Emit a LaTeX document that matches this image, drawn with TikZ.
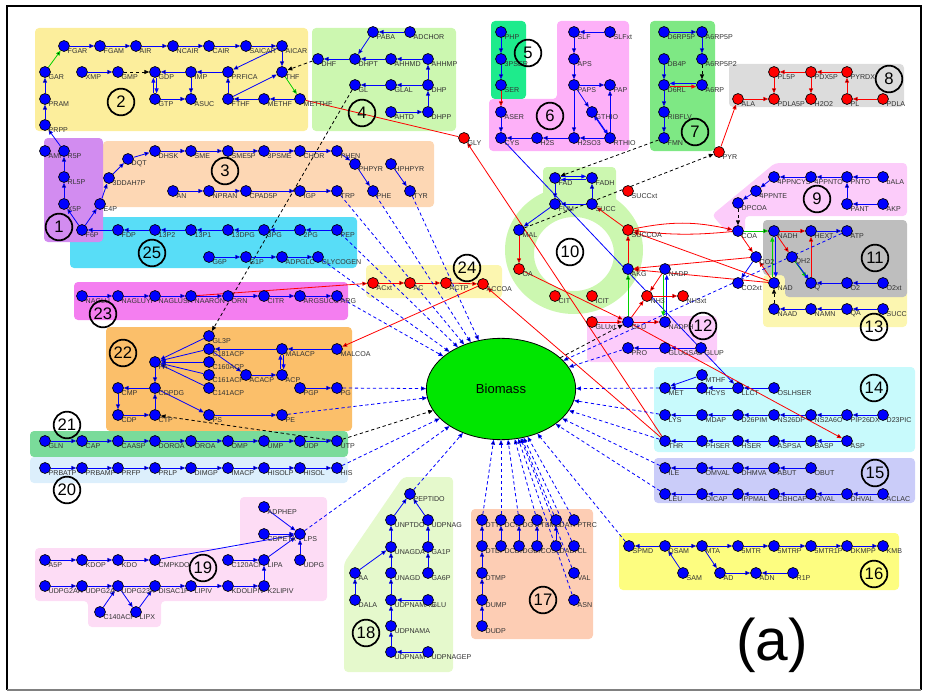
\documentclass[tikz,border=0pt]{standalone}
\usepackage{fontspec}
\setmainfont{Liberation Sans}
\usetikzlibrary{arrows.meta,backgrounds,shapes.geometric}

\definecolor{bxyel}{HTML}{FCEE9C}
\definecolor{bxgrn}{HTML}{CCF7B0}
\definecolor{bxpur}{HTML}{D28CF0}
\definecolor{bxpch}{HTML}{FDD7B4}
\definecolor{bxcyn}{HTML}{58DDF7}
\definecolor{bxmag}{HTML}{F47EF0}
\definecolor{bxlyl}{HTML}{FCF6B0}
\definecolor{bxorg}{HTML}{FBBF6A}
\definecolor{bxgrd}{HTML}{7ADB9A}
\definecolor{bxlbl}{HTML}{DCEFFC}
\definecolor{bxpnk}{HTML}{FDDCF5}
\definecolor{bxlgr}{HTML}{E5F9CC}
\definecolor{bxsal}{HTML}{FDCDB4}
\definecolor{bxbyl}{HTML}{FDFD80}
\definecolor{bxlav}{HTML}{CACCF9}
\definecolor{bxlcy}{HTML}{C8FAFC}
\definecolor{bxgry}{HTML}{BEBEBE}
\definecolor{bxlgy}{HTML}{DCDCDC}
\definecolor{bxmgr}{HTML}{7EE884}
\definecolor{bxvio}{HTML}{FDB0F8}
\definecolor{bxsea}{HTML}{1EEB8C}
\definecolor{bxpk2}{HTML}{FCCCFA}
\definecolor{biogrn}{HTML}{00E600}
\definecolor{arrgrn}{HTML}{00D000}

\newcommand{\lblfont}{\fontsize{5.3}{6}\selectfont}

\begin{document}
\begin{tikzpicture}[x=0.75pt, y=-0.75pt,
  met/.style={circle, draw=black, line width=0.5pt, fill=blue, minimum size=8.2pt,
              inner sep=0pt, label={[lbl]south east:#1}},
  redmet/.style={met=#1, fill=red},
  lbl/.style={anchor=west, inner sep=0.3pt, xshift=-0.8pt, yshift=-0.8pt,
              font=\lblfont, text=black!80},
  num/.style={circle, draw=black, line width=1.3pt, minimum size=20pt, inner sep=0pt,
              font=\fontsize{12.5}{14}\selectfont},
  rxn/.style={draw=blue, line width=0.6pt, -{Triangle[length=3.6pt,width=3pt]}},
  redrxn/.style={rxn, draw=red},
  grnrxn/.style={rxn, draw=arrgrn},
  blkdash/.style={rxn, draw=black, dash pattern=on 2.5pt off 2pt},
  biodash/.style={rxn, dash pattern=on 2.5pt off 2pt},
  box/.style={rounded corners=3pt}]

\useasboundingbox (0,0) rectangle (928,692);

% metabolites -------------------------------------------------------
% purine (2)
\node[met=FGAR] (FGAR) at (64,46) {};
\node[met=FGAM] (FGAM) at (100,46) {};
\node[met=AIR] (AIR) at (136,46) {};
\node[met=NCAIR] (NCAIR) at (173,46) {};
\node[met=CAIR] (CAIR) at (209,46) {};
\node[met=SAICAR] (SAICAR) at (246,46) {};
\node[met=AICAR] (AICAR) at (282,46) {};
\node[met=GAR] (GAR) at (45,72) {};
\node[met=XMP] (XMP) at (82,72) {};
\node[met=GMP] (GMP) at (118,72) {};
\node[met=GDP] (GDP) at (155,72) {};
\node[met=IMP] (IMP) at (191,72) {};
\node[met=PRFICA] (PRFICA) at (228,72) {};
\node[met=THF] (THF) at (282,72) {};
\node[met=PRAM] (PRAM) at (45,99) {};
\node[met=GTP] (GTP) at (155,99) {};
\node[met=ASUC] (ASUC) at (191,99) {};
\node[met=FTHF] (FTHF) at (228,99) {};
\node[met=METHF] (METHF) at (264,99) {};
\node[met=METTHF] (METTHF) at (300,99) {};
\node[met=PRPP] (PRPP) at (45,125) {};
% folate (4)
\node[met=PABA] (PABA) at (373,32) {};
\node[met=ADCHOR] (ADCHOR) at (410,32) {};
\node[met=DHF] (DHF) at (318,59) {};
\node[met=DHPT] (DHPT) at (355,59) {};
\node[met=AHHMD] (AHHMD) at (391,59) {};
\node[met=AHHMP] (AHHMP) at (428,59) {};
\node[met=GL] (GL) at (355,85) {};
\node[met=GLAL] (GLAL) at (391,85) {};
\node[met=DHP] (DHP) at (428,85) {};
\node[met=AHTD] (AHTD) at (391,112) {};
\node[met=DHPP] (DHPP) at (428,112) {};
% pentose / aromatics (1, 3)
\node[met=AMP] (AMP) at (45,151) {};
\node[met=R5P] (R5P) at (64,151) {};
\node[met=RL5P] (RL5P) at (64,177) {};
\node[met=X5P] (X5P) at (64,204) {};
\node[met=F6P] (F6P) at (82,230) {};
\node[met=E4P] (E4P) at (100,204) {};
\node[met=3DDAH7P] (3DDAH7P) at (109,178) {};
\node[met=DQT] (DQT) at (128,159) {};
\node[met=DHSK] (DHSK) at (155,151) {};
\node[met=SME] (SME) at (191,151) {};
\node[met=SME5P] (SME5P) at (228,151) {};
\node[met=3PSME] (3PSME) at (264,151) {};
\node[met=CHOR] (CHOR) at (300,151) {};
\node[met=PHEN] (PHEN) at (337,151) {};
\node[met=PHPYR] (PHPYR) at (355,164) {};
\node[met=HPHPYR] (HPHPYR) at (391,164) {};
\node[met=AN] (AN) at (173,191) {};
\node[met=NPRAN] (NPRAN) at (209,191) {};
\node[met=CPAD5P] (CPAD5P) at (246,191) {};
\node[met=IGP] (IGP) at (300,191) {};
\node[met=TRP] (TRP) at (337,191) {};
\node[met=PHE] (PHE) at (373,191) {};
\node[met=TYR] (TYR) at (410,191) {};
% glycolysis (25)
\node[met=FDP] (FDP) at (118,230) {};
\node[met=13P2] (13P2) at (155,230) {};
\node[met=13P1] (13P1) at (191,230) {};
\node[met=13DPG] (13DPG) at (228,230) {};
\node[met=3PG] (3PG) at (264,230) {};
\node[met=2PG] (2PG) at (300,230) {};
\node[met=PEP] (PEP) at (337,230) {};
\node[met=G6P] (G6P) at (209,257) {};
\node[met=G1P] (G1P) at (246,257) {};
\node[met=ADPGLC] (ADPGLC) at (282,257) {};
\node[met=GLYCOGEN] (GLYCOGEN) at (318,257) {};
% arginine (23)
\node[met=NAGLU] (NAGLU) at (82,296) {};
\node[met=NAGLUYP] (NAGLUYP) at (118,296) {};
\node[met=NAGLUSA] (NAGLUSA) at (155,296) {};
\node[met=NAARON] (NAARON) at (191,296) {};
\node[met=ORN] (ORN) at (228,296) {};
\node[met=CITR] (CITR) at (264,296) {};
\node[met=ARGSUCC] (ARGSUCC) at (300,296) {};
\node[met=ARG] (ARG) at (337,296) {};
% acetate (24)
\node[redmet=ACxt] (ACxt) at (373,283) {};
\node[redmet=AC] (AC) at (410,283) {};
\node[redmet=ACTP] (ACTP) at (446,283) {};
\node[redmet=ACCOA] (ACCOA) at (483,284) {};
% lipids (22)
\node[met=GL3P] (GL3P) at (209,336) {};
\node[met=C181ACP] (C181ACP) at (209,349) {};
\node[met=C160ACP] (C160ACP) at (209,362) {};
\node[met=C161ACP] (C161ACP) at (209,375) {};
\node[met=C141ACP] (C141ACP) at (209,388) {};
\node[met=PA] (PA) at (155,362) {};
\node[met=CMP] (CMP) at (118,388) {};
\node[met=CDPDG] (CDPDG) at (155,388) {};
\node[met=CDP] (CDP) at (118,415) {};
\node[met=CTP] (CTP) at (155,415) {};
\node[met=PS] (PS) at (209,415) {};
\node[met=MALACP] (MALACP) at (282,349) {};
\node[met=MALCOA] (MALCOA) at (337,349) {};
\node[met=ACACP] (ACACP) at (246,375) {};
\node[met=ACP] (ACP) at (282,375) {};
\node[met=PGP] (PGP) at (300,388) {};
\node[met=PG] (PG) at (337,388) {};
\node[met=PE] (PE) at (282,415) {};
% pyrimidines (21)
\node[met=GLN] (GLN) at (45,441) {};
\node[met=CAP] (CAP) at (82,441) {};
\node[met=CAASP] (CAASP) at (118,441) {};
\node[met=DOROA] (DOROA) at (155,441) {};
\node[met=OROA] (OROA) at (191,441) {};
\node[met=OMP] (OMP) at (228,441) {};
\node[met=UMP] (UMP) at (264,441) {};
\node[met=UDP] (UDP) at (300,441) {};
\node[met=UTP] (UTP) at (337,441) {};
% histidine (20)
\node[met=PRBATP] (PRBATP) at (45,468) {};
\node[met=PRBAMP] (PRBAMP) at (82,468) {};
\node[met=PRFP] (PRFP) at (118,468) {};
\node[met=PRLP] (PRLP) at (155,468) {};
\node[met=DIMGP] (DIMGP) at (191,468) {};
\node[met=IMACP] (IMACP) at (228,468) {};
\node[met=HISOLP] (HISOLP) at (264,468) {};
\node[met=HISOL] (HISOL) at (300,468) {};
\node[met=HIS] (HIS) at (337,468) {};
% LPS (19)
\node[met=A5P] (A5P) at (45,560) {};
\node[met=KDOP] (KDOP) at (82,560) {};
\node[met=KDO] (KDO) at (118,560) {};
\node[met=CMPKDO] (CMPKDO) at (155,560) {};
\node[met=C120ACP] (C120ACP) at (228,560) {};
\node[met=LIPA] (LIPA) at (264,560) {};
\node[met=UDPG] (UDPG) at (300,560) {};
\node[met=UDPG2AA] (UDPG2AA) at (45,586) {};
\node[met=UDPG2A] (UDPG2A) at (82,586) {};
\node[met=UDPG23A] (UDPG23A) at (118,586) {};
\node[met=DISAC1P] (DISAC1P) at (155,586) {};
\node[met=LIPIV] (LIPIV) at (191,586) {};
\node[met=KDOLIPIV] (KDOLIPIV) at (228,586) {};
\node[met=K2LIPIV] (K2LIPIV) at (264,586) {};
\node[met=C140ACP] (C140ACP) at (100,612) {};
\node[met=LIPX] (LIPX) at (136,612) {};
\node[met=ADPHEP] (ADPHEP) at (264,507) {};
\node[met=CDPETA] (CDPETA) at (264,534) {};
\node[met=LPS] (LPS) at (300,534) {};
% peptidoglycan (18)
\node[met=PEPTIDO] (PEPTIDO) at (410,494) {};
\node[met=UNPTDO] (UNPTDO) at (391,520) {};
\node[met=UDPNAG] (UDPNAG) at (428,520) {};
\node[met=UNAGDA] (UNAGDA) at (391,547) {};
\node[met=GA1P] (GA1P) at (428,547) {};
\node[met=AA] (AA) at (355,573) {};
\node[met=UNAGD] (UNAGD) at (391,573) {};
\node[met=GA6P] (GA6P) at (428,573) {};
\node[met=DALA] (DALA) at (355,600) {};
\node[met=UDPNAMAG] (UDPNAMAG) at (391,600) {};
\node[met=GLU] (GLUb) at (428,600) {};
\node[met=UDPNAMA] (UDPNAMA) at (391,626) {};
\node[met=UDPNAM] (UDPNAM) at (391,652) {};
\node[met=UDPNAGEP] (UDPNAGEP) at (428,652) {};
% nucleotides (17)
\node[met=DTTP] (DTTP) at (482,520) {};
\node[met=DCTP] (DCTP) at (501,520) {};
\node[met=DGTP] (DGTP) at (519,520) {};
\node[met=TBMD] (TBMD) at (537,520) {};
\node[met=DATP] (DATP) at (556,520) {};
\node[met=PTRC] (PTRC) at (574,520) {};
\node[met=DTDP] (DTDP) at (482,546) {};
\node[met=DCDP] (DCDP) at (501,546) {};
\node[met=DGDP] (DGDP) at (519,546) {};
\node[met=COSD] (COSD) at (537,546) {};
\node[met=DADP] (DADP) at (556,546) {};
\node[met=CL] (CL) at (574,546) {};
\node[met=DTMP] (DTMP) at (482,573) {};
\node[met=DUMP] (DUMP) at (482,600) {};
\node[met=DUDP] (DUDP) at (482,626) {};
\node[met=VAL] (VAL) at (574,573) {};
\node[met=ASN] (ASN) at (574,600) {};
% methionine salvage (16)
\node[met=SPMD] (SPMD) at (629,546) {};
\node[met=DSAM] (DSAM) at (665,546) {};
\node[met=MTA] (MTA) at (702,546) {};
\node[met=5MTR] (5MTR) at (738,546) {};
\node[met=5MTRP] (5MTRP) at (774,546) {};
\node[met=5MTR1P] (5MTR1P) at (811,546) {};
\node[met=DKMPP] (DKMPP) at (847,546) {};
\node[met=KMB] (KMB) at (883,546) {};
\node[met=SAM] (SAM) at (683,573) {};
\node[met=AD] (AD) at (720,573) {};
\node[met=ADN] (ADN) at (756,573) {};
\node[met=R1P] (R1P) at (793,573) {};
% branched chain (15)
\node[met=ILE] (ILE) at (665,468) {};
\node[met=OMVAL] (OMVAL) at (702,468) {};
\node[met=DHMVA] (DHMVA) at (738,468) {};
\node[met=ABUT] (ABUT) at (774,468) {};
\node[met=OBUT] (OBUT) at (811,468) {};
\node[met=LEU] (LEU) at (665,494) {};
\node[met=OICAP] (OICAP) at (702,494) {};
\node[met=IPPMAL] (IPPMAL) at (738,494) {};
\node[met=CBHCAP] (CBHCAP) at (774,494) {};
\node[met=OIVAL] (OIVAL) at (811,494) {};
\node[met=DHVAL] (DHVAL) at (847,494) {};
\node[met=ACLAC] (ACLAC) at (883,494) {};
% aspartate family (14)
\node[met=MTHF] (MTHF) at (702,375) {};
\node[met=MET] (MET) at (665,388) {};
\node[met=HCYS] (HCYS) at (702,388) {};
\node[met=LLCT] (LLCT) at (738,388) {};
\node[met=OSLHSER] (OSLHSER) at (774,388) {};
\node[met=LYS] (LYS) at (665,415) {};
\node[met=MDAP] (MDAP) at (702,415) {};
\node[met=D26PIM] (D26PIM) at (738,415) {};
\node[met=NS26DP] (NS26DP) at (774,415) {};
\node[met=NS2A6O] (NS2A6O) at (811,415) {};
\node[met=PIP26DX] (PIP26DX) at (847,415) {};
\node[met=D23PIC] (D23PIC) at (883,415) {};
\node[met=THR] (THR) at (665,441) {};
\node[met=PHSER] (PHSER) at (702,441) {};
\node[met=HSER] (HSER) at (738,441) {};
\node[met=ASPSA] (ASPSA) at (774,441) {};
\node[met=BASP] (BASP) at (811,441) {};
\node[met=ASP] (ASP) at (847,441) {};
% NAD (13), respiration (11)
\node[met=NAAD] (NAAD) at (774,309) {};
\node[met=NAMN] (NAMN) at (811,309) {};
\node[met=QA] (QA) at (847,309) {};
\node[met=SUCC] (SUCCb) at (883,309) {};
\node[met=NADH] (NADH) at (774,231) {};
\node[met=HEXT] (HEXT) at (811,231) {};
\node[met=ATP] (ATP) at (847,231) {};
\node[met=QH2] (QH2) at (792,257) {};
\node[met=NAD] (NAD) at (774,283) {};
\node[met=Q] (Q) at (811,283) {};
\node[met=O2] (O2) at (847,283) {};
\node[met=O2xt] (O2xt) at (883,283) {};
\node[met=COA] (COA) at (738,231) {};
\node[met=CO2] (CO2) at (756,257) {};
\node[met=CO2xt] (CO2xt) at (738,283) {};
% coenzyme A (9)
\node[met=4PPNCYS] (4PPNCYS) at (774,177) {};
\node[met=4PPNTO] (4PPNTO) at (811,177) {};
\node[met=PNTO] (PNTO) at (847,177) {};
\node[met=bALA] (bALA) at (883,177) {};
\node[met=4PPNTE] (4PPNTE) at (756,191) {};
\node[met=DPCOA] (DPCOA) at (738,203) {};
\node[met=PANT] (PANT) at (847,204) {};
\node[met=AKP] (AKP) at (883,204) {};
% vitamin B6 (8)
\node[redmet=PL5P] (PL5P) at (774,72) {};
\node[redmet=PDX5P] (PDX5P) at (811,72) {};
\node[redmet=PYRDX] (PYRDX) at (847,72) {};
\node[redmet=ALA] (ALA) at (738,99) {};
\node[redmet=PDLA5P] (PDLA5P) at (774,99) {};
\node[redmet=H2O2] (H2O2) at (811,99) {};
\node[redmet=PL] (PL) at (847,99) {};
\node[redmet=PDLA] (PDLA) at (883,99) {};
\node[redmet=PYR] (PYR) at (719,152) {};
% riboflavin (7)
\node[met=D6RP5P] (D6RP5P) at (664,32) {};
\node[met=A6RP5P] (A6RP5P) at (702,32) {};
\node[met=DB4P] (DB4P) at (664,59) {};
\node[met=A6RP5P2] (A6RP5P2) at (702,59) {};
\node[met=D6RL] (D6RL) at (664,85) {};
\node[met=A6RP] (A6RP) at (702,85) {};
\node[met=RIBFLV] (RIBFLV) at (664,112) {};
\node[met=FMN] (FMN) at (664,138) {};
% serine, sulfur (5, 6)
\node[met=PHP] (PHP) at (501,32) {};
\node[met=3PSER] (3PSER) at (501,59) {};
\node[met=SER] (SER) at (501,85) {};
\node[met=SLF] (SLF) at (574,32) {};
\node[met=SLFxt] (SLFxt) at (610,32) {};
\node[met=APS] (APS) at (574,59) {};
\node[met=PAPS] (PAPS) at (574,85) {};
\node[met=PAP] (PAP) at (610,85) {};
\node[met=ASER] (ASER) at (501,112) {};
\node[met=GTHIO] (GTHIO) at (592,112) {};
\node[met=CYS] (CYS) at (501,138) {};
\node[met=H2S] (H2S) at (537,138) {};
\node[met=H2SO3] (H2SO3) at (574,138) {};
\node[met=RTHIO] (RTHIO) at (610,138) {};
\node[redmet=GLY] (GLY) at (464,138) {};
% TCA (10), glutamate (12)
\node[met=FAD] (FAD) at (555,178) {};
\node[met=FADH] (FADH) at (592,178) {};
\node[met=FUM] (FUM) at (555,204) {};
\node[met=SUCC] (SUCC) at (592,204) {};
\node[met=MAL] (MAL) at (519,230) {};
\node[redmet=SUCCOA] (SUCCOA) at (628,230) {};
\node[redmet=OA] (OA) at (519,269) {};
\node[redmet=CIT] (CIT) at (555,296) {};
\node[redmet=ICIT] (ICIT) at (592,296) {};
\node[met=AKG] (AKG) at (628,269) {};
\node[redmet=SUCCxt] (SUCCxt) at (628,191) {};
\node[met=NADP] (NADP) at (665,269) {};
\node[redmet=NH3] (NH3) at (647,296) {};
\node[redmet=NH3xt] (NH3xt) at (683,296) {};
\node[redmet=GLUxt] (GLUxt) at (592,322) {};
\node[met=GLU] (GLU) at (628,322) {};
\node[met=NADPH] (NADPH) at (665,322) {};
\node[met=PRO] (PRO) at (628,348) {};
\node[met=GLUGSAL] (GLUGSAL) at (665,348) {};
\node[met=GLUP] (GLUP) at (701,348) {};

\node[draw=black, line width=0.6pt, fill=biogrn, ellipse, minimum width=112pt,
      minimum height=76pt, font=\fontsize{9.8}{11}\selectfont] (Biomass) at (501,389) {Biomass};

% pathway numbers
\foreach \n/\px/\py in {1/59/227, 2/121/102, 3/225/171, 4/362/113, 5/528/53, 6/550/116,
    7/695/132, 8/889/79, 9/817/199, 10/570/252, 11/875/258, 12/703/326, 13/874/327,
    14/874/388, 15/875/473, 16/874/574, 17/543/600, 18/366/633, 19/203/568, 20/67/490,
    21/67/425, 22/123/353, 23/103/314, 24/467/268, 25/152/253}
  \node[num] (n\n) at (\px,\py) {\n};

\node[font=\fontsize{44}{48}\selectfont] (tag) at (772,645) {(a)};

\begin{scope}[on background layer]
  % pathway boxes
  \fill[bxyel, box] (35,28) rectangle (308,131);
  \fill[bxgrn, box] (312,28) rectangle (456,131);
  \fill[bxpch, box] (103,141) rectangle (434,207);
  \fill[bxcyn, box] (70,217) rectangle (357,268);
  \fill[bxpur, box] (44,138) rectangle (103,242);
  \fill[bxmag, box] (74,282) rectangle (348,320);
  \fill[bxlyl, box] (366,265) rectangle (502,298);
  \fill[bxorg, box] (106,327) rectangle (352,431);
  \fill[bxgrd, box] (30,431) rectangle (348,457);
  \fill[bxlbl, box] (30,457) rectangle (348,483);
  \fill[bxpnk, box] (35,548) -- (240,548) -- (240,497) -- (327,497) -- (327,601)
    -- (161,601) -- (161,627) -- (88,627) -- (88,601) -- (35,601) -- cycle;
  \fill[bxlgr, box] (344,563) -- (403,477) -- (453,477) -- (453,672) -- (344,672) -- cycle;
  \fill[bxsal, box] (471,509) rectangle (593,639);
  \fill[bxbyl, box] (619,533) rectangle (899,590);
  \fill[bxlav, box] (654,458) rectangle (915,503);
  \fill[bxlcy, box] (654,367) rectangle (915,452);
  \fill[bxpk2, box] (775,163) -- (907,163) -- (907,216) -- (745,216) -- (745,232)
    -- (727,232) -- (712,215) -- cycle;
  \fill[bxlyl, box] (763,275) rectangle (907,327);
  \fill[bxgry, box] (763,220) -- (907,220) -- (907,297) -- (785,297) -- (785,275)
    -- (763,275) -- cycle;
  \fill[bxpk2, box] (587,316) rectangle (717,362);
  \fill[bxgrn, even odd rule] (574,250) ellipse [x radius=69, y radius=64]
    (574,254) ellipse [x radius=40, y radius=37];
  \fill[bxgrn, box] (543,167) rectangle (616,215);
  \fill[bxlgy, box] (729,64) rectangle (904,107);
  \fill[bxmgr, box] (650,21) rectangle (715,151);
  \fill[bxvio, box] (557,21) -- (629,21) -- (629,151) -- (489,151) -- (489,99)
    -- (557,99) -- cycle;
  \fill[bxsea, box] (491,21) rectangle (526,99);

  % frame
  \draw[line width=1.4pt] (7,690) -- (7,6) -- (921,6) -- (921,690);
  \draw[gray, line width=0.8pt] (7,690) -- (921,690);

  % purine, folate
  \path[rxn]
    (FGAR) edge (FGAM) (FGAM) edge (AIR) (AIR) edge (NCAIR) (NCAIR) edge (CAIR)
    (CAIR) edge (SAICAR) (SAICAR) edge (AICAR) (AICAR) edge (THF) (AICAR) edge (PRFICA)
    (PRFICA) edge (IMP) (IMP) edge (GDP) (IMP) edge (ASUC) (GTP) edge (ASUC)
    (XMP) edge (GMP) (PRPP) edge (PRAM) (PRAM) edge (GAR) (FTHF) edge (PRFICA)
    (FTHF) edge (THF) (METHF) edge (FTHF) (METTHF) edge (METHF) (R5P) edge (PRPP)
    (ADCHOR) edge (PABA) (PABA) edge (DHPT) (AHHMD) edge (DHPT) (AHHMP) edge (AHHMD)
    (DHP) edge (AHHMP) (DHPP) edge (DHP) (AHTD) edge (DHPP) (DHP) edge (GLAL)
    (GLAL) edge (GL) (DHPT) edge (DHF);
  \draw[rxn, transform canvas={xshift=1.2pt}] (GDP) -- (GTP);
  \draw[rxn, transform canvas={xshift=-1.2pt}] (GTP) -- (GDP);
  \path[grnrxn] (GAR) edge (FGAR) (THF) edge (METTHF);
  \path[blkdash] (GMP) edge (GDP) (DHF) edge (THF) (GL) edge (GL3P);
  \path[redrxn] (THR) edge (GLY) (GLY) edge[-] (METTHF);

  % pentose phosphate, aromatics, glycolysis
  \path[rxn]
    (RL5P) edge (R5P) (X5P) edge (RL5P) (F6P) edge (X5P) (F6P) edge (E4P)
    (E4P) edge (3DDAH7P) (3DDAH7P) edge (DQT) (DQT) edge (DHSK) (DHSK) edge (SME)
    (SME) edge (SME5P) (SME5P) edge (3PSME) (3PSME) edge (CHOR) (CHOR) edge (PHEN)
    (PHEN) edge (PHPYR) (PHPYR) edge (PHE) (HPHPYR) edge (TYR)
    (AN) edge (NPRAN) (NPRAN) edge (CPAD5P) (CPAD5P) edge (IGP) (IGP) edge (TRP)
    (FDP) edge (F6P) (13P2) edge (FDP) (13P1) edge (13P2) (13DPG) edge (13P1)
    (3PG) edge (13DPG) (2PG) edge (3PG) (PEP) edge (2PG)
    (G6P) edge (G1P) (G1P) edge (ADPGLC) (ADPGLC) edge (GLYCOGEN);

  % arginine, acetate, lipids
  \path[rxn]
    (NAGLU) edge (NAGLUYP) (NAGLUYP) edge (NAGLUSA) (NAGLUSA) edge (NAARON)
    (NAARON) edge (ORN) (ORN) edge (CITR) (CITR) edge (ARGSUCC) (ARGSUCC) edge (ARG)
    (GL3P) edge (PA) (C181ACP) edge (PA) (C160ACP) edge (PA) (C161ACP) edge (PA)
    (C141ACP) edge (PA) (PA) edge (CDPDG) (CDPDG) edge (CMP) (CMP) edge (CDP)
    (CDP) edge (CTP) (CTP) edge (CDPDG) (CDPDG) edge (PS) (PS) edge (PE)
    (MALCOA) edge (MALACP) (MALACP) edge (C181ACP) (C181ACP) edge (ACACP)
    (ACACP) edge (ACP) (PGP) edge (PG);
  \draw[rxn, transform canvas={xshift=1.2pt}] (MALACP) -- (ACP);
  \draw[rxn, transform canvas={xshift=-1.2pt}] (ACP) -- (MALACP);
  \path[redrxn]
    (NAARON) edge (ACxt) (ACxt) edge (AC) (AC) edge (ACTP) (ACTP) edge (ACCOA)
    (ACCOA) edge (MALCOA) (THR) edge (ACCOA);
  \path[blkdash] (UTP) edge (CTP) (UTP) edge (Biomass);

  % pyrimidines, histidine, LPS
  \path[rxn]
    (GLN) edge (CAP) (CAP) edge (CAASP) (CAASP) edge (DOROA) (DOROA) edge (OROA)
    (OROA) edge (OMP) (OMP) edge (UMP) (UMP) edge (UDP) (UDP) edge (UTP)
    (PRBATP) edge (PRBAMP) (PRBAMP) edge (PRFP) (PRFP) edge (PRLP) (PRLP) edge (DIMGP)
    (DIMGP) edge (IMACP) (IMACP) edge (HISOLP) (HISOLP) edge (HISOL) (HISOL) edge (HIS)
    (A5P) edge (KDOP) (KDOP) edge (KDO) (KDO) edge (CMPKDO) (CMPKDO) edge (LPS)
    (UDPG2AA) edge (UDPG2A) (UDPG2A) edge (UDPG23A) (C140ACP) edge (UDPG23A)
    (UDPG23A) edge (LIPX) (LIPX) edge (DISAC1P) (UDPG23A) edge[-] (DISAC1P)
    (DISAC1P) edge (LIPIV) (LIPIV) edge (KDOLIPIV) (KDOLIPIV) edge (K2LIPIV)
    (K2LIPIV) edge (LIPA) (C120ACP) edge (LIPA) (LIPA) edge (LPS)
    (ADPHEP) edge (LPS) (CDPETA) edge (LPS) (UDPG) edge (LPS);

  % peptidoglycan, nucleotides
  \path[rxn]
    (UNPTDO) edge (PEPTIDO) (UDPNAG) edge (PEPTIDO) (UNAGDA) edge (UNPTDO)
    (GA1P) edge (UDPNAG) (AA) edge (UNAGDA) (DALA) edge (AA) (UNAGD) edge (UNAGDA)
    (GA6P) edge (GA1P) (UDPNAMAG) edge (UNAGD) (GLUb) edge (UDPNAMAG)
    (UDPNAMA) edge (UDPNAMAG) (UDPNAM) edge (UDPNAMA) (UDPNAGEP) edge (UDPNAM)
    (DTDP) edge (DTTP) (DCDP) edge (DCTP) (DGDP) edge (DGTP) (COSD) edge (TBMD)
    (DADP) edge (DATP) (DTMP) edge (DTDP) (DUMP) edge (DTMP) (DUDP) edge (DUMP);

  % methionine salvage, branched chain, aspartate family
  \path[rxn]
    (DSAM) edge (SPMD) (DSAM) edge (MTA) (SAM) edge (DSAM) (MTA) edge (5MTR)
    (5MTR) edge (5MTRP) (5MTRP) edge (5MTR1P) (5MTR1P) edge (DKMPP) (DKMPP) edge (KMB)
    (MTA) edge (AD) (AD) edge (ADN) (R1P) edge (ADN)
    (OMVAL) edge (ILE) (DHMVA) edge (OMVAL) (ABUT) edge (DHMVA) (OBUT) edge (ABUT)
    (OICAP) edge (LEU) (IPPMAL) edge (OICAP) (CBHCAP) edge (IPPMAL)
    (OIVAL) edge (CBHCAP) (DHVAL) edge (OIVAL) (ACLAC) edge (DHVAL)
    (MTHF) edge (MET) (HCYS) edge (MET) (LLCT) edge (HCYS) (OSLHSER) edge (LLCT)
    (MDAP) edge (LYS) (D26PIM) edge (MDAP) (NS26DP) edge (D26PIM)
    (NS2A6O) edge (NS26DP) (PIP26DX) edge (NS2A6O) (D23PIC) edge (PIP26DX)
    (PHSER) edge (THR) (HSER) edge (PHSER) (ASPSA) edge (HSER) (BASP) edge (ASPSA)
    (ASP) edge (BASP) (CYS) edge (LLCT);

  % NAD, respiration, coenzyme A
  \path[rxn]
    (SUCCb) edge (QA) (QA) edge (NAMN) (NAMN) edge (NAAD) (HEXT) edge (ATP)
    (O2) edge (Q) (O2xt) edge (O2) (CO2) edge (CO2xt)
    (bALA) edge (PNTO) (PNTO) edge (4PPNTO) (4PPNTO) edge (4PPNCYS)
    (4PPNCYS) edge (4PPNTE) (4PPNTE) edge (DPCOA) (PANT) edge (PNTO) (AKP) edge (PANT);
  \draw[grnrxn, transform canvas={xshift=-1.3pt}] (NAD) -- (NADH);
  \draw[rxn, transform canvas={xshift=1.3pt}] (NADH) -- (NAD);
  \draw[grnrxn, transform canvas={xshift=-0.9pt, yshift=0.9pt}] (QH2) -- (Q);
  \draw[rxn, transform canvas={xshift=0.9pt, yshift=-0.9pt}] (QH2) -- (Q);
  \path[grnrxn] (COA) edge (NADH);
  \path[redrxn] (NADH) edge (HEXT) (NADH) edge (QH2) (Q) edge (HEXT)
    (COA) edge (CO2) (NAD) edge (CO2);
  \path[blkdash] (NAAD) edge (NAD) (DPCOA) edge (COA) (A6RP5P2) edge (A6RP)
    (FMN) edge (FAD) (MAL) edge (PYR) (Biomass) edge (GLU);

  % vitamin B6, riboflavin, serine and sulfur
  \path[redrxn]
    (PYR) edge (ALA) (ALA) edge (PDLA5P) (PL5P) edge (PDLA5P) (PDX5P) edge (PL5P)
    (PYRDX) edge (PDX5P) (PDX5P) edge (H2O2) (PL) edge (PYRDX) (PDLA) edge (PL)
    (SER) edge (ASER);
  \path[rxn]
    (D6RP5P) edge (A6RP5P) (A6RP5P) edge (A6RP5P2) (DB4P) edge (D6RL)
    (D6RL) edge (RIBFLV) (RIBFLV) edge (FMN)
    (PHP) edge (3PSER) (3PSER) edge (SER) (ASER) edge (CYS)
    (SLFxt) edge (SLF) (SLF) edge (APS) (APS) edge (PAPS) (PAPS) edge (PAP)
    (PAPS) edge (H2SO3) (PAPS) edge (GTHIO) (RTHIO) edge (PAP) (RTHIO) edge (H2SO3)
    (H2SO3) edge (H2S) (H2S) edge (CYS);
  \draw[rxn, transform canvas={yshift=1.2pt}] (A6RP) -- (D6RL);
  \draw[redrxn, transform canvas={yshift=-1.2pt}] (D6RL) -- (A6RP);
  \draw[rxn, transform canvas={xshift=1pt, yshift=-1pt}] (GTHIO) -- (RTHIO);
  \draw[rxn, transform canvas={xshift=-1pt, yshift=1pt}] (RTHIO) -- (GTHIO);

  % TCA cycle, glutamate
  \draw[rxn, transform canvas={yshift=1.2pt}] (FAD) -- (FADH);
  \draw[rxn, transform canvas={yshift=-1.2pt}] (FADH) -- (FAD);
  \path[rxn]
    (SUCC) edge (FADH) (SUCC) edge (FUM) (FAD) edge (FUM) (FUM) edge (MAL)
    (GLUP) edge (GLUGSAL) (GLUGSAL) edge (PRO);
  \draw[grnrxn, transform canvas={xshift=-1.3pt}] (NADP) -- (NADPH);
  \draw[rxn, transform canvas={xshift=1.3pt}] (NADPH) -- (NADP);
  \path[grnrxn] (GLU) edge (AKG);
  \path[redrxn]
    (MAL) edge (OA) (SUCCOA) edge (SUCC) (AKG) edge (SUCCOA)
    (NADP) edge (NH3) (GLU) edge (NH3) (NH3) edge (NH3xt) (GLUxt) edge (GLU)
    (GLU) edge (NADPH) (OA) edge (GLU) (GLU) edge (ASP)
    (SUCCOA) edge[bend left=12] (COA) (COA) edge[bend left=6] (SUCCOA)
    (CO2) edge (AKG) (NAD) edge (AKG) (NAD) edge (SUCCOA);

  % biomass
  \path[biodash]
    (TRP) edge (Biomass) (PHE) edge (Biomass) (TYR) edge (Biomass)
    (PEP) edge (Biomass) (GLYCOGEN) edge (Biomass) (ARG) edge (Biomass)
    (PG) edge (Biomass) (PE) edge (Biomass) (HIS) edge (Biomass)
    (LPS) edge (Biomass) (PEPTIDO) edge (Biomass)
    (DTTP) edge (Biomass) (DCTP) edge (Biomass) (DGTP) edge (Biomass)
    (TBMD) edge (Biomass) (DATP) edge (Biomass) (PTRC) edge (Biomass)
    (CL) edge (Biomass) (VAL) edge (Biomass) (ASN) edge (Biomass)
    (SPMD) edge (Biomass) (ILE) edge (Biomass) (LEU) edge (Biomass)
    (THR) edge (Biomass) (LYS) edge (Biomass) (MET) edge (Biomass)
    (PRO) edge (Biomass) (ATP) edge (Biomass);
\end{scope}

\end{tikzpicture}
\end{document}
